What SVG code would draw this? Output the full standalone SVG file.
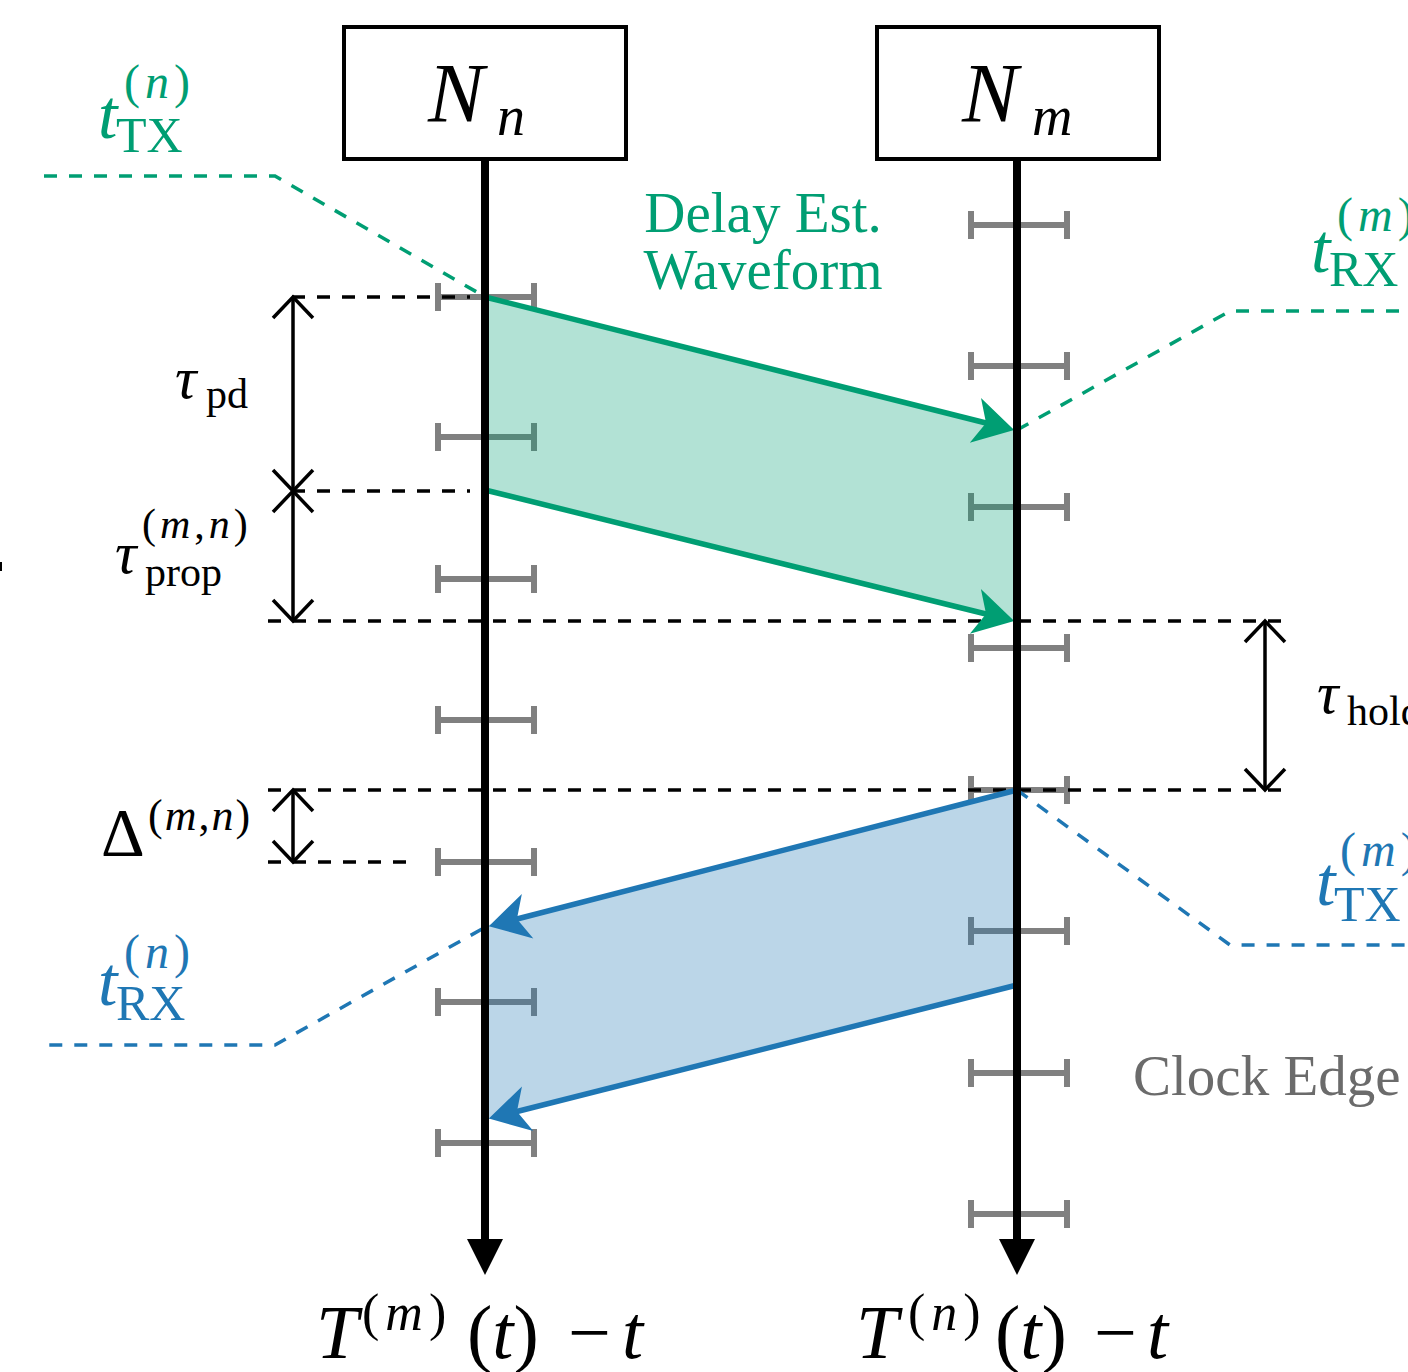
<svg xmlns="http://www.w3.org/2000/svg" width="1408" height="1372" viewBox="0 0 1408 1372">
<style>
text{font-family:"Liberation Serif","DejaVu Serif",serif;}
.it{font-style:italic;}
.g{fill:#009e73;}
.b{fill:#1f77b4;}
.k{fill:#000;}
.box{fill:#fff;stroke:#000;stroke-width:4;}
.tick{stroke:#808080;stroke-width:6;fill:none;}
.dash{stroke:#000;stroke-width:3.5;stroke-dasharray:13 12;fill:none;}
.gl{stroke:#009e73;stroke-width:3.5;stroke-dasharray:13 12;fill:none;}
.bl{stroke:#1f77b4;stroke-width:3.5;stroke-dasharray:13 12;fill:none;}
.dim{stroke:#000;stroke-width:3.5;fill:none;marker-start:url(#open);marker-end:url(#open);}
.tl{stroke:#000;stroke-width:8;}
</style>
<defs>
<marker id="open" markerUnits="userSpaceOnUse" orient="auto-start-reverse" markerWidth="30" markerHeight="50" refX="26" refY="25" viewBox="0 0 30 50">
<path d="M5,5 L26,25 L5,45" fill="none" stroke="#000" stroke-width="3.5"/>
</marker>
<marker id="ga" markerUnits="userSpaceOnUse" orient="auto" markerWidth="60" markerHeight="60" refX="20" refY="30" viewBox="0 0 60 60">
<path d="M47,30 L7,7 L18,30 L7,53 Z" fill="#009e73"/>
</marker>
<marker id="ba" markerUnits="userSpaceOnUse" orient="auto" markerWidth="60" markerHeight="60" refX="20" refY="30" viewBox="0 0 60 60">
<path d="M47,30 L7,7 L18,30 L7,53 Z" fill="#1f77b4"/>
</marker>
<path id="tk" d="M-48,0 H48 M-48,-14 V14 M48,-14 V14"/>
</defs>

<g id="clock-ticks">
<use href="#tk" class="tick" x="486" y="297"/>
<use href="#tk" class="tick" x="486" y="437"/>
<use href="#tk" class="tick" x="486" y="579"/>
<use href="#tk" class="tick" x="486" y="720"/>
<use href="#tk" class="tick" x="486" y="862"/>
<use href="#tk" class="tick" x="486" y="1002"/>
<use href="#tk" class="tick" x="486" y="1143"/>
<use href="#tk" class="tick" x="1019" y="225"/>
<use href="#tk" class="tick" x="1019" y="366"/>
<use href="#tk" class="tick" x="1019" y="507"/>
<use href="#tk" class="tick" x="1019" y="648"/>
<use href="#tk" class="tick" x="1019" y="790"/>
<use href="#tk" class="tick" x="1019" y="931"/>
<use href="#tk" class="tick" x="1019" y="1073"/>
<use href="#tk" class="tick" x="1019" y="1214"/>
</g>

<g id="waveforms">
<polygon points="485,297 1017,430 1017,621 485,490" fill="#009e73" fill-opacity="0.3"/>
<polygon points="1017,790 485,926 485,1120 1017,985" fill="#1f77b4" fill-opacity="0.3"/>
</g>

<g id="connectors">
<path class="dash" d="M292,297 H470"/>
<path class="dash" d="M292,491 H470"/>
<path class="dash" d="M268,621 H1290"/>
<path class="dash" d="M268,790 H1290"/>
<path class="dash" d="M268,862 H415"/>
<line class="dim" x1="293" y1="297" x2="293" y2="491"/>
<line class="dim" x1="293" y1="491" x2="293" y2="621"/>
<line class="dim" x1="293" y1="790" x2="293" y2="862"/>
<line class="dim" x1="1265" y1="621" x2="1265" y2="790"/>
<path class="gl" d="M44,176 H275 L482,295"/>
<path class="gl" d="M1017,430 L1230,311 H1408"/>
<path class="bl" d="M1017,790 L1230,945 H1408"/>
<path class="bl" d="M482,929 L275,1045 H44"/>
<line x1="485" y1="297" x2="988" y2="423.5" stroke="#009e73" stroke-width="5.5" marker-end="url(#ga)"/>
<line x1="485" y1="490" x2="988" y2="614.5" stroke="#009e73" stroke-width="5.5" marker-end="url(#ga)"/>
<line x1="1017" y1="790" x2="515" y2="919.5" stroke="#1f77b4" stroke-width="5.5" marker-end="url(#ba)"/>
<line x1="1017" y1="985" x2="515" y2="1112" stroke="#1f77b4" stroke-width="5.5" marker-end="url(#ba)"/>
<line class="tl" x1="485" y1="159" x2="485" y2="1242"/>
<line class="tl" x1="1017" y1="159" x2="1017" y2="1242"/>
<polygon points="467,1239 503,1239 485,1275" fill="#000"/>
<polygon points="999,1239 1035,1239 1017,1275" fill="#000"/>
<rect x="0" y="562" width="2" height="9" fill="#000"/>
</g>

<g id="node-Nn">
<rect class="box" x="344" y="27" width="282" height="132"/>
<text class="it" x="428" y="122" font-size="84">N</text>
<text class="it" x="497" y="135" font-size="56">n</text>
</g>
<g id="node-Nm">
<rect class="box" x="877" y="27" width="282" height="132"/>
<text class="it" x="962" y="122" font-size="84">N</text>
<text class="it" x="1032" y="135" font-size="56">m</text>
</g>

<g id="label-tTXn" class="g">
<text class="it" x="98" y="138" font-size="70">t</text>
<text x="116" y="152" font-size="50">TX</text>
<text x="124" y="98" font-size="48" letter-spacing="5">(<tspan class="it">n</tspan>)</text>
</g>
<g id="label-tRXm" class="g">
<text class="it" x="1311" y="272" font-size="70">t</text>
<text x="1329" y="286" font-size="50">RX</text>
<text x="1337" y="231" font-size="48" letter-spacing="5">(<tspan class="it">m</tspan>)</text>
</g>
<g id="label-tTXm" class="b">
<text class="it" x="1316" y="905" font-size="70">t</text>
<text x="1334" y="921" font-size="50">TX</text>
<text x="1340" y="866" font-size="48" letter-spacing="5">(<tspan class="it">m</tspan>)</text>
</g>
<g id="label-tRXn" class="b">
<text class="it" x="98" y="1005" font-size="70">t</text>
<text x="116" y="1020" font-size="50">RX</text>
<text x="124" y="968" font-size="48" letter-spacing="5">(<tspan class="it">n</tspan>)</text>
</g>
<g id="label-delay" class="g">
<text x="763" y="232" font-size="57" text-anchor="middle">Delay Est.</text>
<text x="763" y="289" font-size="57" text-anchor="middle">Waveform</text>
</g>
<g id="label-taupd">
<text class="it" x="175" y="398" font-size="60">τ</text>
<text x="206" y="408" font-size="42">pd</text>
</g>
<g id="label-tauprop">
<text class="it" x="115" y="573" font-size="60">τ</text>
<text x="145" y="586" font-size="42">prop</text>
<text x="142" y="538" font-size="42" letter-spacing="4">(<tspan class="it">m</tspan>,<tspan class="it">n</tspan>)</text>
</g>
<g id="label-delta">
<text x="101" y="855" font-size="68">Δ</text>
<text x="148" y="830" font-size="44" letter-spacing="2">(<tspan class="it">m</tspan>,<tspan class="it">n</tspan>)</text>
</g>
<g id="label-tauhold">
<text class="it" x="1317" y="713" font-size="60">τ</text>
<text x="1347" y="725" font-size="42">hold</text>
</g>
<g id="label-clock">
<text x="1133" y="1095" font-size="57" fill="#6b6b6b">Clock Edge</text>
</g>
<g id="label-Tm">
<text class="it" x="316" y="1358" font-size="76">T</text>
<text x="362" y="1330" font-size="52" letter-spacing="6">(<tspan class="it">m</tspan>)</text>
<text x="467" y="1358" font-size="76">(<tspan class="it">t</tspan>)</text>
<text x="568" y="1358" font-size="76">−</text>
<text class="it" x="622" y="1358" font-size="76">t</text>
</g>
<g id="label-Tn">
<text class="it" x="856" y="1358" font-size="76">T</text>
<text x="908" y="1330" font-size="52" letter-spacing="6">(<tspan class="it">n</tspan>)</text>
<text x="995" y="1358" font-size="76">(<tspan class="it">t</tspan>)</text>
<text x="1094" y="1358" font-size="76">−</text>
<text class="it" x="1147" y="1358" font-size="76">t</text>
</g>
</svg>
